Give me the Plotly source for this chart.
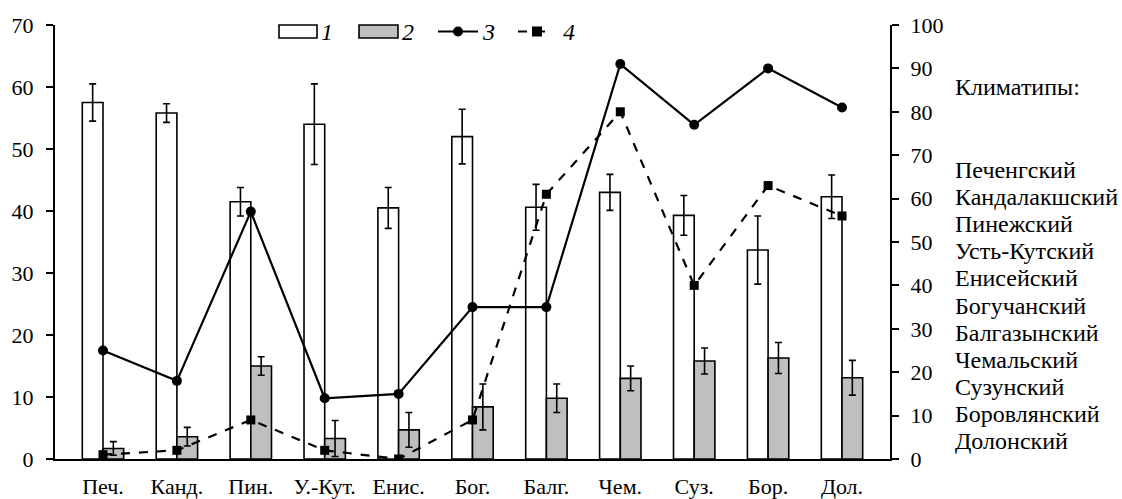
import plotly.graph_objects as go

# Climatype abbreviations (x axis) and full names (side list)
categories = ["Печ.", "Канд.", "Пин.", "У.-Кут.", "Енис.", "Бог.", "Балг.", "Чем.", "Суз.", "Бор.", "Дол."]
climatypes = ["Печенгский", "Кандалакшский", "Пинежский", "Усть-Кутский", "Енисейский",
              "Богучанский", "Балгазынский", "Чемальский", "Сузунский", "Боровлянский", "Долонский"]

# Series 1 and 2: bars on the left axis, with errors
s1 = [57.5, 55.8, 41.5, 54.0, 40.5, 52.0, 40.6, 43.0, 39.3, 33.7, 42.3]
s1_err = [3.0, 1.5, 2.3, 6.5, 3.3, 4.4, 3.7, 2.9, 3.2, 5.5, 3.5]
s2 = [1.7, 3.6, 15.0, 3.3, 4.7, 8.4, 9.8, 13.0, 15.8, 16.3, 13.1]
s2_err = [1.1, 1.5, 1.5, 2.9, 2.8, 3.7, 2.3, 2.0, 2.1, 2.5, 2.8]

# Series 3 and 4: lines on the right axis
s3 = [25, 18, 57, 14, 15, 35, 35, 91, 77, 90, 81]
s4 = [1, 2, 9, 2, 0, 9, 61, 80, 40, 63, 56]

left_ticks = list(range(0, 71, 10))
right_ticks = list(range(0, 101, 10))

FONT = "Liberation Serif"
GREY = "#bfbfbf"

W, H = 1122, 499
ML, MR, MT, MB = 55, 232, 25, 40
PW, PH = W - ML - MR, H - MT - MB


def px(x):
    return (x - ML) / PW


def py(y):
    return (H - MB - y) / PH


fig = go.Figure()

err_style = dict(type="data", color="black", thickness=1.6, width=3.5)

fig.add_trace(go.Bar(
    x=categories, y=s1, name="1",
    marker=dict(color="white", line=dict(color="black", width=1.6)),
    error_y=dict(array=s1_err, **err_style),
))
fig.add_trace(go.Bar(
    x=categories, y=s2, name="2",
    marker=dict(color=GREY, line=dict(color="black", width=1.6)),
    error_y=dict(array=s2_err, **err_style),
))
fig.add_trace(go.Scatter(
    x=categories, y=s3, name="3", yaxis="y2", mode="lines+markers",
    line=dict(color="black", width=2.2),
    marker=dict(symbol="circle", size=10, color="black"),
))
fig.add_trace(go.Scatter(
    x=categories, y=s4, name="4", yaxis="y2", mode="lines+markers",
    line=dict(color="black", width=2.2, dash="dash"),
    marker=dict(symbol="square", size=9, color="black"),
))

axis_common = dict(
    showgrid=False, zeroline=False, showline=True, linecolor="black", linewidth=2,
    ticks="outside", ticklen=7, tickwidth=2, tickcolor="black", automargin=False,
    tickfont=dict(family=FONT, size=22, color="black"),
)

fig.update_layout(
    width=W, height=H,
    margin=dict(l=ML, r=MR, t=MT, b=MB),
    paper_bgcolor="white", plot_bgcolor="white",
    barmode="group", bargap=0.44, bargroupgap=0,
    showlegend=False,
    font=dict(family=FONT, size=22, color="black"),
    xaxis=dict(
        showgrid=False, zeroline=False, showline=True, linecolor="black", linewidth=2,
        ticks="", ticklabelstandoff=7, automargin=False,
        tickfont=dict(family=FONT, size=22, color="black"),
    ),
    yaxis=dict(range=[0, 70], tickvals=left_ticks, ticklabelstandoff=8, **axis_common),
    yaxis2=dict(range=[0, 100], tickvals=right_ticks, overlaying="y", side="right",
                ticklabelstandoff=7, **axis_common),
)

# Legend row drawn above the plot
legend_y0, legend_y1 = py(38), py(25)
legend_mid = py(31.5)
fig.add_shape(type="rect", xref="paper", yref="paper", x0=px(279), x1=px(317),
              y0=legend_y0, y1=legend_y1, fillcolor="white", line=dict(color="black", width=1.6))
fig.add_shape(type="rect", xref="paper", yref="paper", x0=px(359), x1=px(398),
              y0=legend_y0, y1=legend_y1, fillcolor=GREY, line=dict(color="black", width=1.6))
fig.add_shape(type="line", xref="paper", yref="paper", x0=px(438), x1=px(478),
              y0=legend_mid, y1=legend_mid, line=dict(color="black", width=2.2))
fig.add_shape(type="circle", xref="paper", yref="paper", x0=px(453), x1=px(463),
              y0=py(36.5), y1=py(26.5), fillcolor="black", line=dict(color="black", width=0))
fig.add_shape(type="line", xref="paper", yref="paper", x0=px(518), x1=px(553),
              y0=legend_mid, y1=legend_mid, line=dict(color="black", width=2.2, dash="dash"))
fig.add_shape(type="rect", xref="paper", yref="paper", x0=px(532), x1=px(542),
              y0=py(36.5), y1=py(26.5), fillcolor="black", line=dict(color="black", width=0))

for label, x in [("1", 319), ("2", 400), ("3", 480), ("4", 561)]:
    fig.add_annotation(xref="paper", yref="paper", x=px(x), y=legend_mid,
                       text=f"<i>{label}</i>", showarrow=False, xanchor="left", yanchor="middle",
                       font=dict(family=FONT, size=24, color="black"))

# Side list of climatype names
fig.add_annotation(xref="paper", yref="paper", x=px(953), y=py(87), text="Климатипы:",
                   showarrow=False, xanchor="left", yanchor="middle",
                   font=dict(family=FONT, size=24, color="black"))
for i, name in enumerate(climatypes):
    fig.add_annotation(xref="paper", yref="paper", x=px(953), y=py(170 + i * 27.1), text=name,
                       showarrow=False, xanchor="left", yanchor="middle",
                       font=dict(family=FONT, size=24, color="black"))

fig.write_html("out.html")
